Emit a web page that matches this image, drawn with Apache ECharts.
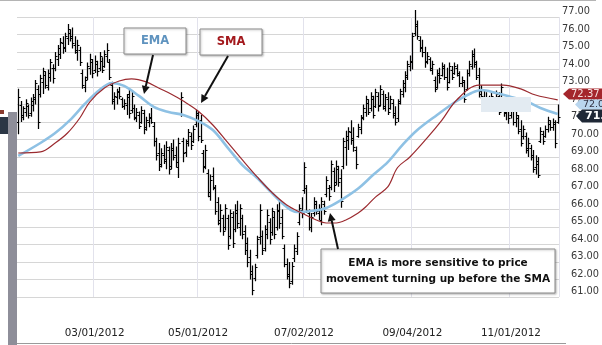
<!DOCTYPE html>
<html><head><meta charset="utf-8">
<script src="https://cdn.jsdelivr.net/npm/echarts@6/dist/echarts.min.js"></script>
<style>html,body{margin:0;padding:0;background:#fff}#c{width:602px;height:345px}</style>
</head><body><div id="c"></div>
<script>
// ---- calendar (trading days) ----
const holidays = ['2012-02-20','2012-04-06','2012-05-28','2012-07-04','2012-09-03','2012-10-29','2012-10-30','2012-11-22'];
const xLabelDates = ['03/01/2012','05/01/2012','07/02/2012','09/04/2012','11/01/2012'];
const yMin = 61, yMax = 77, yStep = 1;

// ---- OHLC ----
const opens = [
71.0,72.0,71.3,71.6,71.9,71.5,72.0,72.3,72.9,72.6,
73.3,73.7,73.0,73.6,74.1,74.1,74.6,74.9,75.5,75.3,
75.8,76.1,75.9,75.4,75.0,75.1,73.8,73.0,73.6,74.1,
74.4,74.0,74.3,74.1,74.5,74.2,74.8,74.4,73.1,72.2,
72.4,72.8,72.3,71.9,72.0,72.6,71.7,71.8,71.2,71.4,
71.0,71.5,70.7,71.0,71.2,70.8,69.9,69.2,68.6,69.1,
68.8,69.4,68.5,69.4,69.1,68.4,71.5,69.9,69.3,69.9,
70.2,69.9,70.9,71.4,71.1,69.2,68.5,68.1,66.8,67.9,
67.2,66.4,65.2,65.5,65.0,65.5,64.5,65.6,64.9,65.8,
65.0,65.5,64.8,64.1,63.3,62.5,62.1,63.4,64.4,64.5,
63.8,64.6,65.3,64.7,65.6,65.0,65.9,65.6,63.8,62.9,
62.2,61.9,63.2,63.6,65.3,66.0,67.1,67.2,65.8,65.0,
65.8,66.3,65.8,65.4,66.3,66.9,67.2,67.3,68.2,67.6,
68.3,67.8,68.5,69.6,70.0,70.4,70.1,69.4,70.2,70.6,
71.3,71.6,72.1,71.8,72.3,71.9,72.5,72.0,72.6,71.8,
72.3,71.8,72.1,71.5,71.2,72.2,72.6,73.0,73.6,74.2,
74.4,76.1,76.5,75.7,75.3,75.0,74.5,74.6,74.0,73.4,
73.0,73.7,73.7,74.1,73.6,73.3,74.0,73.8,74.1,73.7,
73.2,73.3,72.9,73.8,74.2,74.8,74.3,73.7,72.8,72.4,
72.0,72.3,71.9,72.3,72.2,72.5,72.4,72.2,71.6,71.9,
71.4,71.7,71.0,71.2,70.6,70.2,70.2,69.5,69.5,69.1,
68.4,68.6,69.9,70.3,70.2,70.6,70.9,70.7,70.9,71.0];
const highs = [
72.9,72.2,71.9,72.3,72.0,72.4,72.6,73.4,73.1,73.7,
74.1,73.9,74.0,74.6,74.3,75.0,75.4,75.8,75.9,76.1,
76.6,76.3,76.4,75.9,75.7,75.3,74.0,73.6,74.4,74.9,
74.6,74.8,74.5,75.0,74.7,75.1,75.5,74.6,73.3,72.7,
72.9,73.0,72.4,72.3,72.6,72.9,72.8,72.0,71.8,71.6,
71.9,71.7,71.3,71.5,71.8,71.0,70.1,69.8,69.5,69.7,
69.9,69.6,69.8,70.0,69.6,70.1,72.7,70.1,70.0,70.6,
70.4,70.8,71.7,71.6,71.4,69.4,69.7,68.3,68.0,68.4,
67.4,66.7,66.3,65.7,66.3,65.7,66.0,65.9,66.3,66.5,
66.3,65.7,65.1,64.4,63.7,62.8,62.9,64.5,66.3,64.8,
65.1,66.0,65.5,66.1,65.9,66.3,66.5,66.0,64.0,63.2,
63.0,63.0,64.0,64.7,66.3,66.7,68.7,67.4,66.0,65.8,
66.7,66.5,66.3,66.7,66.5,67.9,67.4,68.8,68.4,68.8,
68.5,68.3,70.1,70.5,70.7,71.1,70.7,69.6,70.9,71.4,
72.0,72.5,72.3,72.7,72.5,72.9,72.7,73.1,72.8,72.6,
72.7,72.5,72.3,71.9,72.3,72.9,73.4,73.9,74.5,74.8,
76.1,77.4,76.8,75.9,75.7,75.3,75.0,74.7,74.5,73.6,
74.0,74.1,74.4,74.3,74.1,74.4,74.2,74.4,74.3,73.9,
73.6,73.4,74.0,74.5,75.1,75.2,74.5,74.1,73.1,72.8,
72.7,72.5,72.7,72.4,72.8,72.7,73.2,72.4,72.3,72.1,
72.3,71.9,71.7,71.4,71.1,70.8,70.4,70.1,69.7,69.4,
69.1,69.0,70.7,70.5,70.8,71.3,71.1,71.2,71.1,72.0];
const lows = [
70.3,71.0,71.1,71.3,71.2,71.3,71.6,72.0,70.6,72.4,
72.6,72.9,72.8,73.3,73.2,73.9,74.2,74.6,74.9,75.0,
75.4,75.6,75.2,74.9,74.5,74.2,72.9,72.7,73.4,73.7,
73.5,73.8,73.6,73.9,73.8,74.1,74.4,73.4,72.0,71.7,
72.0,72.3,71.8,71.7,71.4,71.2,71.5,71.1,71.0,70.6,
70.9,70.3,70.5,70.7,70.9,69.6,68.8,68.2,68.4,68.6,
68.3,68.0,68.3,68.8,68.4,67.8,71.3,68.7,69.0,69.6,
69.4,69.8,70.7,69.9,69.8,68.1,68.3,66.7,66.5,67.1,
65.7,65.1,64.7,64.5,64.8,63.7,64.3,63.8,64.7,64.9,
64.5,64.3,63.4,62.7,62.0,61.1,61.9,63.2,64.0,63.4,
63.6,64.3,64.0,64.5,64.3,64.8,64.9,64.3,62.7,62.0,
61.5,61.7,63.0,63.4,65.1,65.5,66.9,65.8,64.8,64.7,
65.6,65.7,65.4,65.1,65.7,66.7,66.5,67.1,67.0,67.4,
67.3,66.1,68.3,68.5,69.4,69.7,69.3,68.3,70.1,70.3,
71.1,71.3,71.4,71.6,71.2,71.8,71.6,71.9,71.7,71.6,
71.4,71.7,71.2,70.8,71.0,72.0,72.4,72.7,73.4,73.9,
74.0,75.9,75.7,75.0,74.7,74.1,74.3,73.9,73.7,72.7,
72.9,73.2,73.6,73.4,72.8,73.2,73.4,73.7,73.6,73.0,
73.0,72.1,72.8,73.6,74.0,74.1,73.4,72.4,72.3,71.8,
71.7,71.6,71.8,71.9,72.1,71.4,72.3,71.3,71.1,70.9,
71.2,70.8,70.7,70.3,69.6,70.0,69.2,69.0,68.8,68.1,
68.0,67.8,69.8,69.7,70.1,70.4,70.5,70.5,69.5,70.9];
const closes = [
72.4,71.4,71.8,72.1,71.4,72.2,72.4,73.2,71.0,73.5,
73.9,73.1,73.8,74.4,73.5,74.8,75.2,75.6,75.2,75.9,
76.3,75.8,75.5,75.1,75.4,74.4,73.1,73.4,74.2,74.6,
73.8,74.5,73.9,74.8,74.0,74.9,75.1,73.6,72.3,72.5,
72.7,72.5,71.9,72.1,72.4,71.5,72.5,71.3,71.6,70.8,
71.7,70.6,71.1,71.3,71.0,69.9,69.1,68.5,69.2,68.9,
69.6,68.3,69.5,69.0,68.7,69.8,72.4,69.2,69.8,70.4,
69.7,70.6,71.5,70.2,70.0,68.4,69.4,67.0,67.7,67.3,
65.9,65.4,66.0,64.8,66.1,64.0,65.8,64.1,66.0,65.2,
66.1,64.6,63.7,63.0,62.3,61.4,62.7,64.3,66.0,63.7,
64.9,65.7,64.3,65.9,64.6,66.0,65.2,64.5,62.9,62.3,
61.8,62.8,63.8,64.5,66.1,65.8,68.4,66.0,65.0,65.6,
66.5,65.9,66.1,66.5,65.9,67.7,66.8,68.6,67.4,68.5,
67.6,66.5,69.9,70.2,70.5,70.0,69.6,68.6,70.7,71.2,
71.8,72.3,71.6,72.5,71.4,72.7,71.9,72.9,71.9,72.4,
71.6,72.3,71.4,71.0,72.1,72.8,73.2,73.7,74.3,74.5,
75.9,76.6,75.9,75.2,75.0,74.4,74.8,74.1,74.3,72.9,
73.8,73.5,74.2,73.6,73.0,74.2,73.6,74.2,73.8,73.2,
73.4,72.3,73.8,74.3,74.9,74.4,73.6,72.6,72.5,72.0,
72.4,71.8,72.5,72.0,72.6,71.6,73.0,71.5,72.0,71.2,
72.1,71.0,71.4,70.5,69.8,70.6,69.4,69.8,69.0,68.3,
68.8,68.0,70.5,69.9,70.6,71.1,70.7,71.0,69.8,71.3];

// ---- moving averages, read at sample bars (index, value) ----
const emaIdx = [0,9,15,21,27,33,38,43,49,55,61,67,73,79,85,91,97,103,109,113,119,125,131,138,144,150,156,162,170,178,184,188,194,200,206,212,219];
const emaVal = [69.06,69.80,70.37,71.11,72.03,72.83,73.23,73.06,72.49,71.86,71.57,71.40,71.06,70.54,69.54,68.54,67.80,66.94,66.14,65.86,65.91,66.09,66.54,67.20,67.97,68.71,69.69,70.54,71.40,72.20,72.66,72.83,72.66,72.43,72.20,71.80,71.46];
const smaIdx = [0,9,15,20,25,29,35,41,46,52,57,62,67,73,79,85,91,97,103,109,115,121,125,129,133,138,141,145,150,154,159,166,172,178,187,197,204,210,219];
const smaVal = [69.23,69.29,69.80,70.37,71.23,72.14,72.94,73.34,73.46,73.29,72.94,72.60,72.20,71.63,70.83,69.83,68.83,67.86,66.97,66.26,65.80,65.40,65.23,65.23,65.40,65.80,66.14,66.71,67.29,68.40,69.00,70.09,71.11,72.26,73.11,73.11,72.89,72.54,72.26];

// ---- price tags at right edge ----
const tagValues = [72.6, 72.0, 71.35];
const tagTexts = ['72.37', '72.0', '71.1'];

// ---- annotation texts ----
const noteTexts = ['EMA', 'SMA', 'EMA is more sensitive to price', 'movement turning up before the SMA'];

function tradingDays() {
  const out = [];
  let t = Date.UTC(2012, 0, 17);
  const end = Date.UTC(2012, 10, 29);
  while (t <= end) {
    const d = new Date(t);
    const wd = d.getUTCDay();
    const iso = d.toISOString().slice(0, 10);
    if (wd !== 0 && wd !== 6 && holidays.indexOf(iso) < 0) {
      out.push(iso.slice(5, 7) + '/' + iso.slice(8, 10) + '/' + iso.slice(0, 4));
    }
    t += 86400000;
  }
  return out;
}
const dates = tradingDays();
const labelIdx = xLabelDates.map(d => dates.indexOf(d));

const ohlc = dates.map((d, i) => [i, opens[i], highs[i], lows[i], closes[i]]);
const ema = emaIdx.map((k, j) => [k, emaVal[j]]);
const sma = smaIdx.map((k, j) => [k, smaVal[j]]);

const chart = echarts.init(document.getElementById('c'), null, {renderer: 'canvas'});
const FONT = '"DejaVu Sans", Verdana, sans-serif';

function arrow(x1, y1, x2, y2) {
  const dx = x2 - x1, dy = y2 - y1, L = Math.hypot(dx, dy);
  const ux = dx / L, uy = dy / L, nx = -uy, ny = ux;
  const hl = 8, hw = 4;
  const bx = x2 - hl * ux, by = y2 - hl * uy;
  return [
    {type: 'line', z: 100, shape: {x1: x1, y1: y1, x2: bx, y2: by}, style: {stroke: '#111', lineWidth: 2}},
    {type: 'polygon', z: 100, shape: {points: [[x2, y2], [bx + hw * nx, by + hw * ny], [bx - hw * nx, by - hw * ny]]}, style: {fill: '#111'}}
  ];
}

const boxStyle = {fill: '#fff', stroke: '#8c8c8c', lineWidth: 1, shadowBlur: 2, shadowOffsetX: 1, shadowOffsetY: 1, shadowColor: 'rgba(0,0,0,0.25)'};
const statics = [
  {type: 'line', z: 100, shape: {x1: 0, y1: 0.5, x2: 596, y2: 0.5}, style: {stroke: '#b4b4b4', lineWidth: 1}},
  {type: 'rect', z: 100, shape: {x: 8, y: 112, width: 9, height: 233}, style: {fill: '#8e8e99'}},
  {type: 'line', z: 100, shape: {x1: 17, y1: 343.5, x2: 566, y2: 343.5}, style: {stroke: '#9a9a9a', lineWidth: 1}},
  {type: 'rect', z: 100, shape: {x: 0, y: 110, width: 4, height: 4}, style: {fill: '#8a3b2e'}},
  {type: 'rect', z: 100, shape: {x: 0, y: 117, width: 8, height: 17}, style: {fill: '#2b3645'}},
  {type: 'rect', z: 100, shape: {x: 481, y: 97, width: 50, height: 15}, style: {fill: '#e3ebf2'}},
  {type: 'rect', z: 100, shape: {x: 124, y: 28, width: 62, height: 26}, style: boxStyle},
  {type: 'text', z: 101, style: {x: 155, y: 41.5, text: noteTexts[0], fill: '#5f93bf', font: 'bold 11.5px ' + FONT, align: 'center', verticalAlign: 'middle'}},
  {type: 'rect', z: 100, shape: {x: 200, y: 29, width: 62, height: 26}, style: boxStyle},
  {type: 'text', z: 101, style: {x: 231, y: 42.5, text: noteTexts[1], fill: '#a3191d', font: 'bold 11.5px ' + FONT, align: 'center', verticalAlign: 'middle'}},
  {type: 'rect', z: 100, shape: {x: 321, y: 249, width: 234, height: 44}, style: boxStyle},
  {type: 'text', z: 101, style: {x: 438, y: 263, text: noteTexts[2], fill: '#111', font: 'bold 10.5px ' + FONT, align: 'center', verticalAlign: 'middle'}},
  {type: 'text', z: 101, style: {x: 438, y: 279, text: noteTexts[3], fill: '#111', font: 'bold 10.5px ' + FONT, align: 'center', verticalAlign: 'middle'}}
].concat(arrow(153, 55, 144, 94), arrow(228, 56, 201, 103), arrow(338, 249, 330, 213));

chart.setOption({
  animation: false,
  backgroundColor: '#fff',
  grid: {left: 17, right: 38, top: 17, bottom: 48},
  xAxis: {
    type: 'category', data: dates, boundaryGap: true,
    axisLine: {show: false}, axisTick: {show: false},
    axisLabel: {
      interval: (i) => labelIdx.indexOf(i) >= 0,
      margin: 31, color: '#222', fontFamily: FONT, fontSize: 10.4
    },
    splitLine: {show: true, interval: (i) => labelIdx.indexOf(i) >= 0, lineStyle: {color: '#e2e2ec', width: 1}}
  },
  yAxis: {
    type: 'value', position: 'right', min: yMin, max: yMax, interval: yStep,
    axisLine: {show: false}, axisTick: {show: false},
    splitLine: {show: true, lineStyle: {color: '#d6d6d6', width: 1}},
    axisLabel: {
      margin: 3, verticalAlign: 'bottom', lineHeight: 11,
      formatter: (v) => (v >= 72.5 ? '{a|' : '{b|') + v.toFixed(2) + '}',
      rich: {
        a: {fontFamily: FONT, fontSize: 9.8, color: '#383838', lineHeight: 11},
        b: {fontFamily: FONT, fontSize: 9.8, color: '#383838', lineHeight: 11, padding: [0, 0, 0, 9]}
      }
    }
  },
  series: [
    {
      type: 'custom', name: 'Price', clip: false, z: 2,
      data: ohlc,
      encode: {x: 0, y: [1, 2, 3, 4]},
      renderItem: function (params, api) {
        const i = api.value(0);
        const o = api.coord([i, api.value(1)]);
        const h = api.coord([i, api.value(2)]);
        const l = api.coord([i, api.value(3)]);
        const c = api.coord([i, api.value(4)]);
        const x = Math.round(h[0]) + 0.5;
        const st = {stroke: '#000', lineWidth: 1.25};
        return {type: 'group', children: [
          {type: 'line', shape: {x1: x, y1: h[1], x2: x, y2: l[1]}, style: st},
          {type: 'line', shape: {x1: x - 2, y1: Math.round(o[1]) + 0.5, x2: x, y2: Math.round(o[1]) + 0.5}, style: {stroke: '#000', lineWidth: 1}},
          {type: 'line', shape: {x1: x, y1: Math.round(c[1]) + 0.5, x2: x + 2, y2: Math.round(c[1]) + 0.5}, style: {stroke: '#000', lineWidth: 1}}
        ]};
      }
    },
    {type: 'line', name: 'EMA', data: ema, smooth: 0.35, symbol: 'none', z: 5,
      lineStyle: {color: '#8ec1e4', width: 2.6}},
    {type: 'line', name: 'SMA', data: sma, smooth: 0.35, symbol: 'none', z: 6,
      lineStyle: {color: '#9b2a2f', width: 1.2}}
  ],
  graphic: statics
});

// right-edge price tags placed through the value axis
const tagY = tagValues.map(v => chart.convertToPixel({yAxisIndex: 0}, v));
const tags = [
  {type: 'polygon', z: 110, shape: {points: [[563, tagY[0]], [569, tagY[0] - 5.5], [602, tagY[0] - 5.5], [602, tagY[0] + 5.5], [569, tagY[0] + 5.5]]}, style: {fill: '#a4262c'}},
  {type: 'text', z: 111, style: {x: 571, y: tagY[0], text: tagTexts[0], fill: '#f6e0e0', font: '10px ' + FONT, verticalAlign: 'middle'}},
  {type: 'polygon', z: 112, shape: {points: [[575, tagY[1]], [580, tagY[1] - 5], [602, tagY[1] - 5], [602, tagY[1] + 5], [580, tagY[1] + 5]]}, style: {fill: '#b9d6ee'}},
  {type: 'text', z: 113, style: {x: 583, y: tagY[1], text: tagTexts[1], fill: '#334', font: '9.5px ' + FONT, verticalAlign: 'middle'}},
  {type: 'polygon', z: 114, shape: {points: [[576, tagY[2]], [582, tagY[2] - 6.5], [602, tagY[2] - 6.5], [602, tagY[2] + 6.5], [582, tagY[2] + 6.5]]}, style: {fill: '#1f2836'}},
  {type: 'text', z: 115, style: {x: 585, y: tagY[2], text: tagTexts[2], fill: '#fff', font: 'bold 11px ' + FONT, verticalAlign: 'middle'}}
];
chart.setOption({graphic: statics.concat(tags)});
</script>
</body></html>
